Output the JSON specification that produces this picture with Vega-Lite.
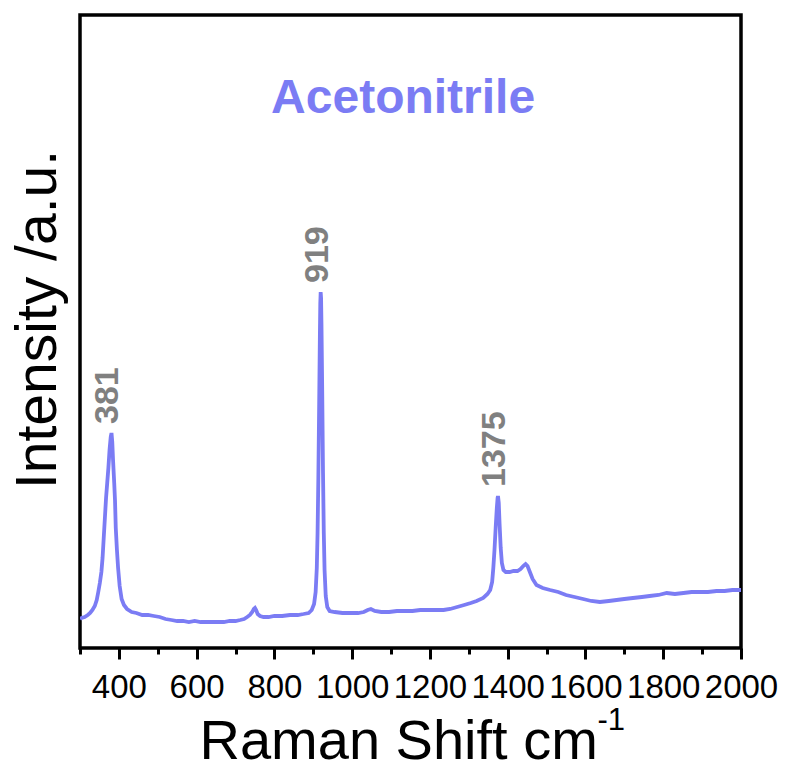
{
  "$schema": "https://vega.github.io/schema/vega-lite/v6.json",
  "autosize": {"type": "none"},
  "padding": {"left": 80, "top": 15, "right": 47, "bottom": 121},
  "width": 661,
  "height": 633,
  "background": "white",
  "config": {
    "view": {"stroke": "black", "strokeWidth": 3.5},
    "font": "Liberation Sans"
  },
  "datasets": {
    "spectrum": [
      {"shift": 300, "intensity": 29}, {"shift": 304, "intensity": 30}, {"shift": 312, "intensity": 31},
      {"shift": 320, "intensity": 33}, {"shift": 326, "intensity": 35}, {"shift": 332, "intensity": 38},
      {"shift": 338, "intensity": 42}, {"shift": 343, "intensity": 48}, {"shift": 347, "intensity": 56},
      {"shift": 351, "intensity": 65}, {"shift": 355, "intensity": 76}, {"shift": 358, "intensity": 90},
      {"shift": 361, "intensity": 110}, {"shift": 364, "intensity": 130}, {"shift": 367, "intensity": 150},
      {"shift": 370, "intensity": 165}, {"shift": 373, "intensity": 180}, {"shift": 376, "intensity": 198},
      {"shift": 379, "intensity": 211}, {"shift": 381, "intensity": 215}, {"shift": 383, "intensity": 206},
      {"shift": 385, "intensity": 188}, {"shift": 388, "intensity": 165}, {"shift": 390, "intensity": 148},
      {"shift": 392, "intensity": 120}, {"shift": 395, "intensity": 98}, {"shift": 398, "intensity": 80},
      {"shift": 402, "intensity": 62}, {"shift": 407, "intensity": 49}, {"shift": 413, "intensity": 43},
      {"shift": 421, "intensity": 39}, {"shift": 433, "intensity": 36}, {"shift": 445, "intensity": 35},
      {"shift": 460, "intensity": 33}, {"shift": 475, "intensity": 33}, {"shift": 490, "intensity": 32},
      {"shift": 505, "intensity": 31}, {"shift": 520, "intensity": 29}, {"shift": 535, "intensity": 28},
      {"shift": 550, "intensity": 27}, {"shift": 565, "intensity": 27}, {"shift": 580, "intensity": 26},
      {"shift": 595, "intensity": 27}, {"shift": 610, "intensity": 26}, {"shift": 625, "intensity": 26},
      {"shift": 640, "intensity": 26}, {"shift": 655, "intensity": 26}, {"shift": 670, "intensity": 26},
      {"shift": 685, "intensity": 27}, {"shift": 700, "intensity": 27}, {"shift": 712, "intensity": 28},
      {"shift": 722, "intensity": 29}, {"shift": 730, "intensity": 31}, {"shift": 737, "intensity": 33},
      {"shift": 743, "intensity": 36}, {"shift": 747, "intensity": 39}, {"shift": 750, "intensity": 40},
      {"shift": 753, "intensity": 38}, {"shift": 757, "intensity": 34}, {"shift": 763, "intensity": 32},
      {"shift": 772, "intensity": 31}, {"shift": 785, "intensity": 31}, {"shift": 800, "intensity": 32},
      {"shift": 820, "intensity": 32}, {"shift": 840, "intensity": 33}, {"shift": 860, "intensity": 33},
      {"shift": 875, "intensity": 34}, {"shift": 888, "intensity": 35}, {"shift": 896, "intensity": 38},
      {"shift": 902, "intensity": 44}, {"shift": 906, "intensity": 56}, {"shift": 909, "intensity": 80},
      {"shift": 911, "intensity": 115}, {"shift": 913, "intensity": 170}, {"shift": 915, "intensity": 240},
      {"shift": 917, "intensity": 315}, {"shift": 918, "intensity": 345}, {"shift": 919, "intensity": 356},
      {"shift": 920, "intensity": 350}, {"shift": 921, "intensity": 325}, {"shift": 923, "intensity": 255},
      {"shift": 925, "intensity": 175}, {"shift": 927, "intensity": 115}, {"shift": 929, "intensity": 78},
      {"shift": 932, "intensity": 52}, {"shift": 936, "intensity": 41}, {"shift": 942, "intensity": 37},
      {"shift": 955, "intensity": 36}, {"shift": 975, "intensity": 35}, {"shift": 995, "intensity": 35},
      {"shift": 1015, "intensity": 35}, {"shift": 1030, "intensity": 36}, {"shift": 1040, "intensity": 38},
      {"shift": 1048, "intensity": 39}, {"shift": 1058, "intensity": 37}, {"shift": 1075, "intensity": 36},
      {"shift": 1095, "intensity": 36}, {"shift": 1115, "intensity": 37}, {"shift": 1135, "intensity": 37},
      {"shift": 1155, "intensity": 37}, {"shift": 1175, "intensity": 38}, {"shift": 1195, "intensity": 38},
      {"shift": 1215, "intensity": 38}, {"shift": 1235, "intensity": 38}, {"shift": 1252, "intensity": 39},
      {"shift": 1270, "intensity": 41}, {"shift": 1288, "intensity": 43}, {"shift": 1305, "intensity": 45},
      {"shift": 1320, "intensity": 47}, {"shift": 1337, "intensity": 50}, {"shift": 1348, "intensity": 54},
      {"shift": 1355, "intensity": 58}, {"shift": 1360, "intensity": 66}, {"shift": 1363, "intensity": 80},
      {"shift": 1366, "intensity": 98}, {"shift": 1369, "intensity": 120}, {"shift": 1372, "intensity": 140},
      {"shift": 1374, "intensity": 150}, {"shift": 1375, "intensity": 152}, {"shift": 1377, "intensity": 145},
      {"shift": 1379, "intensity": 125}, {"shift": 1382, "intensity": 100}, {"shift": 1385, "intensity": 85},
      {"shift": 1389, "intensity": 78}, {"shift": 1395, "intensity": 76}, {"shift": 1405, "intensity": 76},
      {"shift": 1415, "intensity": 77}, {"shift": 1425, "intensity": 77}, {"shift": 1433, "intensity": 79},
      {"shift": 1440, "intensity": 82}, {"shift": 1446, "intensity": 84}, {"shift": 1451, "intensity": 82},
      {"shift": 1457, "intensity": 76}, {"shift": 1464, "intensity": 69}, {"shift": 1474, "intensity": 63},
      {"shift": 1490, "intensity": 60}, {"shift": 1509, "intensity": 58}, {"shift": 1530, "intensity": 56},
      {"shift": 1550, "intensity": 53}, {"shift": 1572, "intensity": 51}, {"shift": 1594, "intensity": 49},
      {"shift": 1615, "intensity": 47}, {"shift": 1637, "intensity": 46}, {"shift": 1660, "intensity": 47},
      {"shift": 1680, "intensity": 48}, {"shift": 1700, "intensity": 49}, {"shift": 1722, "intensity": 50},
      {"shift": 1745, "intensity": 51}, {"shift": 1765, "intensity": 52}, {"shift": 1788, "intensity": 53},
      {"shift": 1809, "intensity": 55}, {"shift": 1830, "intensity": 54}, {"shift": 1852, "intensity": 55},
      {"shift": 1873, "intensity": 56}, {"shift": 1895, "intensity": 56}, {"shift": 1915, "intensity": 56},
      {"shift": 1937, "intensity": 57}, {"shift": 1958, "intensity": 57}, {"shift": 1978, "intensity": 58},
      {"shift": 2000, "intensity": 58}
    ],
    "peaks": [
      {"shift": 381, "intensity": 215, "label": "381"},
      {"shift": 919, "intensity": 356, "label": "919"},
      {"shift": 1375, "intensity": 152, "label": "1375"}
    ],
    "heading": [
      {"shift": 1131, "intensity": 535, "label": "Acetonitrile"}
    ]
  },
  "resolve": {
    "scale": {"x": "shared", "y": "shared"},
    "axis": {"x": "independent", "y": "independent"}
  },
  "layer": [
    {
      "data": {"name": "spectrum"},
      "mark": {"type": "line", "color": "#7b7cf4", "strokeWidth": 3.8, "clip": true},
      "encoding": {
        "x": {
          "field": "shift", "type": "quantitative",
          "scale": {"domain": [300, 2000], "nice": false, "zero": false},
          "axis": {
            "orient": "bottom",
            "values": [400, 600, 800, 1000, 1200, 1400, 1600, 1800, 2000],
            "format": "d",
            "domain": false, "grid": false,
            "tickSize": 11, "tickWidth": 3, "tickColor": "black",
            "labelFont": "Liberation Sans", "labelFontSize": 33, "labelColor": "black",
            "labelPadding": 12, "labelOverlap": false, "labelFlush": false,
            "title": "Raman Shift cm",
            "titleFont": "Liberation Sans", "titleFontSize": 56, "titleFontWeight": "normal",
            "titleColor": "black", "titleAlign": "left", "titleBaseline": "alphabetic",
            "titleX": 119, "titleY": 110
          }
        },
        "y": {
          "field": "intensity", "type": "quantitative",
          "scale": {"domain": [0, 633], "nice": false, "zero": false},
          "axis": {
            "orient": "left",
            "domain": false, "grid": false, "ticks": false, "labels": false,
            "title": "Intensity /a.u.",
            "titleFont": "Liberation Sans", "titleFontSize": 57, "titleFontWeight": "normal",
            "titleColor": "black", "titleAngle": -90, "titleAlign": "center",
            "titleBaseline": "alphabetic", "titleX": -25, "titleY": 304
          }
        }
      }
    },
    {
      "data": {"name": "peaks"},
      "mark": {
        "type": "text", "angle": 270, "align": "left", "baseline": "middle",
        "dx": 9, "dy": -3, "font": "Liberation Sans", "fontSize": 34,
        "fontWeight": "bold", "color": "#808080"
      },
      "encoding": {
        "x": {
          "field": "shift", "type": "quantitative",
          "axis": {
            "orient": "bottom",
            "values": [300, 500, 700, 900, 1100, 1300, 1500, 1700, 1900],
            "domain": false, "grid": false, "labels": false, "title": null,
            "tickSize": 6, "tickWidth": 3, "tickColor": "black"
          }
        },
        "y": {"field": "intensity", "type": "quantitative", "axis": null},
        "text": {"field": "label"}
      }
    },
    {
      "data": {"name": "heading"},
      "mark": {
        "type": "text", "align": "center", "baseline": "alphabetic",
        "font": "Liberation Sans", "fontSize": 48, "fontWeight": "bold", "color": "#7b7cf4"
      },
      "encoding": {
        "x": {
          "field": "shift", "type": "quantitative",
          "axis": {
            "orient": "top",
            "domain": false, "grid": false, "labels": false, "ticks": false,
            "title": "-1",
            "titleFont": "Liberation Sans", "titleFontSize": 31, "titleFontWeight": "normal",
            "titleColor": "black", "titleAlign": "left", "titleBaseline": "alphabetic",
            "titleX": 517, "titleY": 714
          }
        },
        "y": {"field": "intensity", "type": "quantitative", "axis": null},
        "text": {"field": "label"}
      }
    }
  ]
}
